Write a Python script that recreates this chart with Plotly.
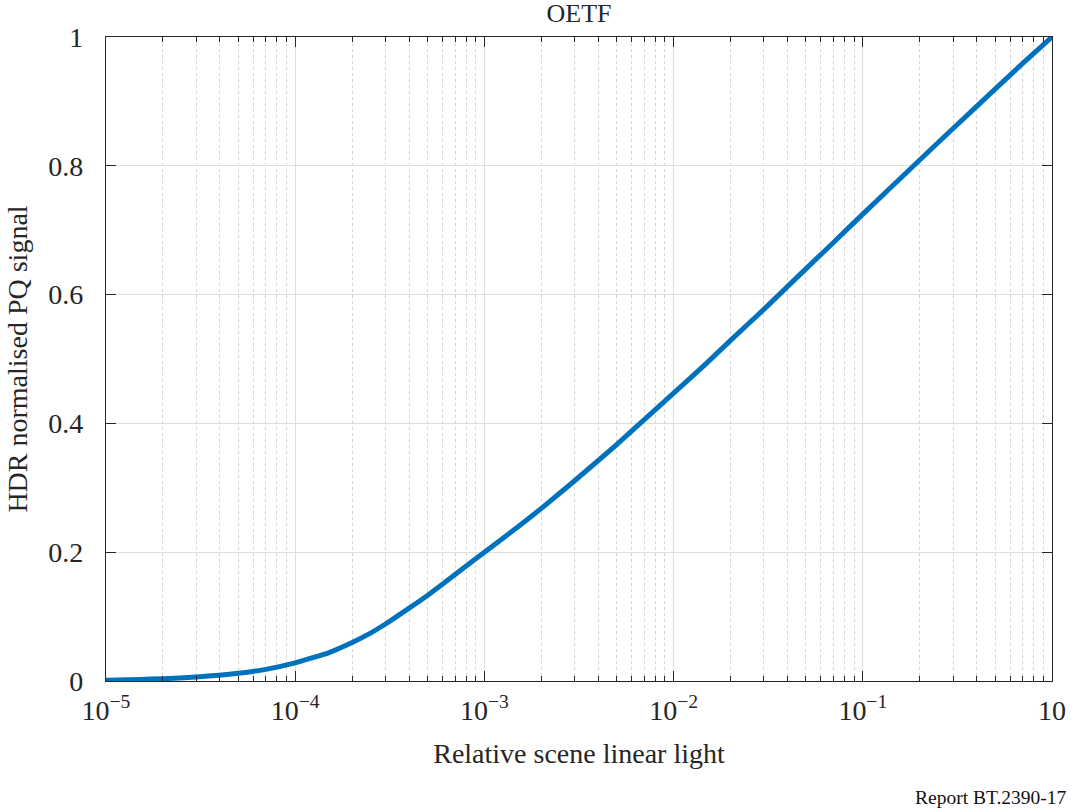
import plotly.graph_objects as go

# Relative scene linear light (x) and HDR normalised PQ signal (y)
light = [1e-5, 1.5e-5, 2e-5, 3e-5, 5e-5, 7e-5, 1e-4, 1.5e-4, 2e-4, 2.5e-4, 3e-4,
         4e-4, 5e-4, 7e-4, 1e-3, 1.5e-3, 2e-3, 3e-3, 5e-3, 7e-3, 1e-2, 1.5e-2,
         2e-2, 3e-2, 5e-2, 7e-2, 1e-1, 2e-1, 3e-1, 5e-1, 7e-1, 1.0]
signal = [0.0013, 0.0025, 0.0035, 0.0061, 0.0119, 0.0181, 0.0281, 0.0438, 0.0598,
          0.0743, 0.0885, 0.1132, 0.1329, 0.1653, 0.200, 0.239, 0.268, 0.311, 0.367,
          0.406, 0.447, 0.494, 0.529, 0.577, 0.640, 0.681, 0.725, 0.809, 0.858,
          0.919, 0.959, 1.000]

x_tick_vals = [1e-5, 1e-4, 1e-3, 1e-2, 1e-1, 1.0]
x_tick_text = ["10<sup>\u22125</sup>", "10<sup>\u22124</sup>", "10<sup>\u22123</sup>",
               "10<sup>\u22122</sup>", "10<sup>\u22121</sup>", "10"]
y_tick_vals = [0, 0.2, 0.4, 0.6, 0.8, 1]
y_tick_text = ["0", "0.2", "0.4", "0.6", "0.8", "1"]

minor_vals = [d * m for d in x_tick_vals[:-1] for m in range(2, 10)]

FONT = "Liberation Serif, Times New Roman, serif"
AX = "#262626"

fig = go.Figure()
fig.add_trace(go.Scatter(x=light, y=signal, mode="lines",
                         line=dict(color="#0072BD", width=5, shape="spline", smoothing=0.4),
                         showlegend=False, hoverinfo="x+y"))

fig.update_layout(
    width=1078, height=812,
    margin=dict(l=106, r=19, t=37, b=131),
    paper_bgcolor="white", plot_bgcolor="white",
    font=dict(family=FONT, color=AX),
    title=dict(text="OETF", x=0.5, xref="paper", xanchor="center",
               y=1 - 13 / 812, yref="container", yanchor="middle",
               font=dict(family=FONT, size=26, color=AX)),
    xaxis=dict(
        type="log", range=[-5, 0],
        tickmode="array", tickvals=x_tick_vals, ticktext=x_tick_text,
        ticks="inside", ticklen=10, tickwidth=1, tickcolor=AX,
        showline=True, linecolor=AX, linewidth=1.2, mirror="ticks",
        showgrid=True, gridcolor="#dedede", gridwidth=1,
        zeroline=False,
        tickfont=dict(family=FONT, size=28, color=AX),
        ticklabelstandoff=4,
        minor=dict(tickmode="array", tickvals=minor_vals, ticks="inside", ticklen=5,
                   tickcolor=AX, tickwidth=1, showgrid=True, gridcolor="#d4d4d4",
                   griddash="dot", gridwidth=1),
        title=dict(text="Relative scene linear light", standoff=18,
                   font=dict(family=FONT, size=28, color=AX)),
    ),
    yaxis=dict(
        range=[0, 1],
        tickmode="array", tickvals=y_tick_vals, ticktext=y_tick_text,
        ticks="inside", ticklen=10, tickwidth=1, tickcolor=AX,
        showline=True, linecolor=AX, linewidth=1.2, mirror="ticks",
        showgrid=True, gridcolor="#dedede", gridwidth=1,
        zeroline=False,
        tickfont=dict(family=FONT, size=28, color=AX),
        ticklabelstandoff=16,
        title=dict(text="HDR normalised PQ signal", standoff=12,
                   font=dict(family=FONT, size=28, color=AX)),
    ),
    annotations=[dict(text="Report BT.2390-17", x=(1076 - 106) / 953, y=(681 - 797) / 644,
                      xref="paper", yref="paper", xanchor="right", yanchor="middle",
                      showarrow=False, font=dict(family=FONT, size=19.5, color="#111111"))],
)

fig.write_html("out.html")
